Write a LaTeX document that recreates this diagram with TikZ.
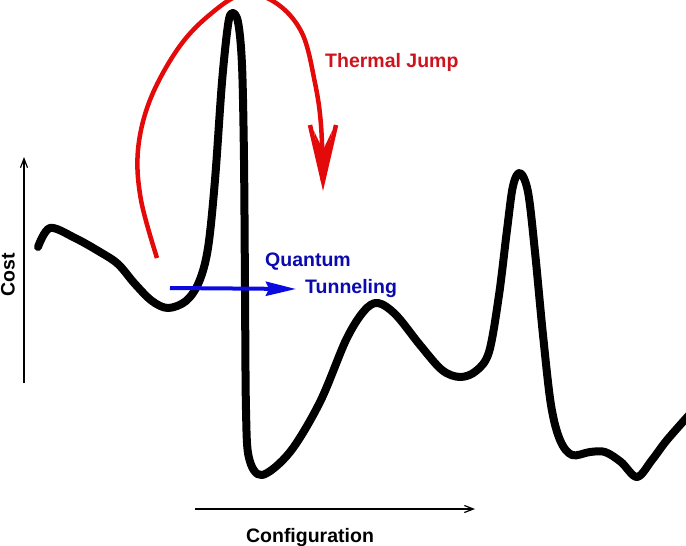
\documentclass[tikz,border=0pt]{standalone}
\usepackage{fontspec}
\setmainfont{Liberation Sans}
\usetikzlibrary{arrows.meta,calc}
\definecolor{jred}{RGB}{228,10,10}
\definecolor{jredtext}{RGB}{205,20,30}
\definecolor{qblue}{RGB}{10,10,225}
\definecolor{qbluetext}{RGB}{10,10,175}
\tikzset{
  lbl/.style={font=\bfseries\fontsize{19.5}{22}\selectfont, inner sep=0pt},
  axis/.style={line width=1.8pt, -{Straight Barb[length=9pt,width=7pt,line width=1.2pt]}},
  landscape/.style={line width=8pt, line cap=round, line join=round},
  jump/.style={jred, line width=4.5pt},
}
\begin{document}
\begin{tikzpicture}[x=1pt,y=-1pt]
\useasboundingbox (0,0) rectangle (686,546);
\clip (0,0) rectangle (686,546);
% axes
\coordinate (ya) at (24,383);
\coordinate (yb) at (24,157);
\coordinate (xa) at (195,509);
\coordinate (xb) at (475,509);
\draw[axis] (ya) -- (yb);
\draw[axis] (xa) -- (xb);
\node[lbl, rotate=90] (cost) at (8,275) {Cost};
\node[lbl] (conf) at (310,537) {Configuration};
% landscape
\draw[landscape] plot[smooth, tension=0.55] coordinates {
 (38,247) (50,228) (75,238) (100,252) (118,264) (135,284) (152,301) (168,308)
 (186,301) (199,282) (208,248) (215,180) (222,82) (228,25) (232,13)
 (238,22) (242,65) (244,160) (245,290) (246,410) (249,458) (262,475)
 (290,452) (320,402) (346,340) (364,311) (378,303)
 (396,315) (420,345) (442,370) (460,377) (476,371) (489,352)
 (499,295) (507,230) (513,186) (520,173) (528,192) (535,252) (543,335)
 (551,405) (560,440) (572,455) (590,452) (605,452) (621,462) (637,477)
 (652,460) (667,440) (690,414)};
% thermal jump
\coordinate (ts) at (157,258);
\coordinate (tt) at (323,181);
\coordinate (tl) at (310,125);
\coordinate (tr) at (336,125);
\draw[jump, line cap=butt] plot[smooth, tension=0.6] coordinates {
  (157,258) (141,200) (138,150) (150,100) (177,50) (207,17) (243,-6) (276,3) (302,33) (315,83) (321,125) (323,181)};
\draw[jump, line join=miter, miter limit=20] (tl) -- (tt) -- (tr);
\fill[jred] (tt) -- ($(tl)+(4,6)$) -- (323,150) -- ($(tr)+(-4,6)$) -- cycle;
\node[lbl, text=jredtext, anchor=west] (thermal) at (325,62) {Thermal Jump};
% quantum tunneling
\coordinate (qa) at (170,288);
\coordinate (qb) at (296,289);
\draw[qblue, line width=4pt, -{Stealth[length=30pt,width=14pt,inset=3pt]}] (qa) -- (qb);
\node[lbl, text=qbluetext, anchor=west] (quantum) at (265,262) {Quantum};
\node[lbl, text=qbluetext, anchor=west] (tunnel) at (305,288) {Tunneling};
\end{tikzpicture}
\end{document}
